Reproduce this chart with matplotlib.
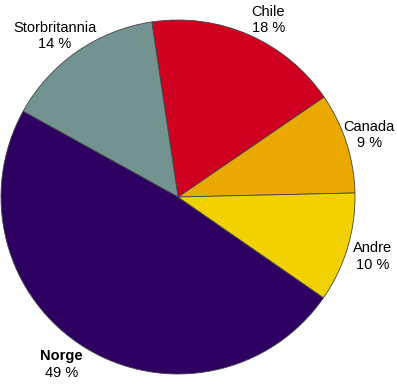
import matplotlib.pyplot as plt

# Data (counterclockwise from the right-hand side)
labels = ['Canada', 'Chile', 'Storbritannia', 'Norge', 'Andre']
values = [9.2, 17.8, 14.6, 48.4, 10.0]
pct_text = ['9 %', '18 %', '14 %', '49 %', '10 %']
colors = ['#EBA900', '#CF0020', '#739391', '#2D0062', '#F2D100']

# label positions in pie units (radius = 1)
label_pos = [(1.08, 0.35), (0.51, 1.0), (-0.695, 0.91), (-0.66, -0.945), (1.10, -0.335)]

plt.rcParams['font.family'] = ['Liberation Sans', 'DejaVu Sans']

fig = plt.figure(figsize=(3.97, 3.86), dpi=100)
ax = fig.add_axes([1 / 397, 12 / 386, 354 / 397, 354 / 386])

ax.pie(values, colors=colors, startangle=1.3, counterclock=True, radius=1,
       wedgeprops=dict(edgecolor='#444444', linewidth=0.6))

for name, pct, (x, y) in zip(labels, pct_text, label_pos):
    weight = 'bold' if name == 'Norge' else 'normal'
    ax.text(x, y + 0.047, name, ha='center', va='center', fontsize=10.5,
            fontweight=weight, clip_on=False)
    ax.text(x, y - 0.047, pct, ha='center', va='center', fontsize=10.5,
            clip_on=False)

ax.set_xlim(-1, 1)
ax.set_ylim(-1, 1)
ax.set_aspect('equal')
ax.axis('off')

fig.savefig('out.png', dpi=100)
